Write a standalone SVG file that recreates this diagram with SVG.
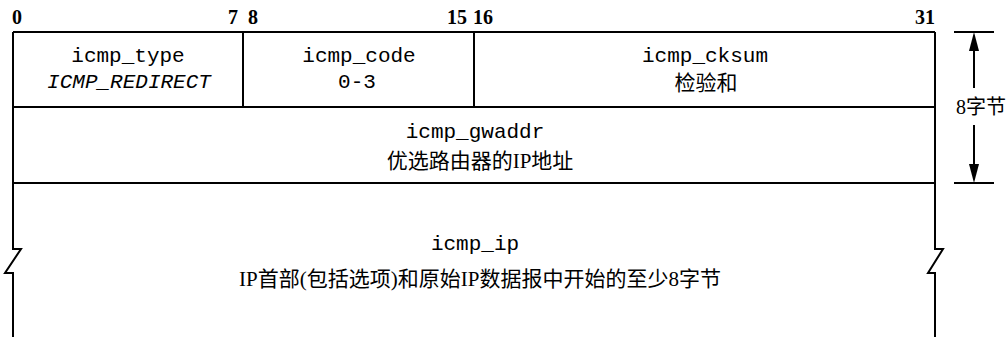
<svg xmlns="http://www.w3.org/2000/svg" width="1006" height="337" viewBox="0 0 1006 337">
<style>
.ln{stroke:#000;stroke-width:2;fill:none}
.bit{font-family:"Liberation Serif",serif;font-weight:bold;font-size:20px;fill:#000}
.mono{font-family:"Liberation Mono","Courier New",monospace;font-size:21px;fill:#000;text-anchor:middle}
.it{font-style:italic}
.cjk{font-family:"Liberation Serif","Noto Sans CJK SC",sans-serif;font-size:21px;fill:#000;text-anchor:middle}
</style>
<rect width="1006" height="337" fill="#fff"/>
<g id="bit-numbers">
<text class="bit" x="12" y="24">0</text>
<text class="bit" x="238" y="24" text-anchor="end">7</text>
<text class="bit" x="248" y="24">8</text>
<text class="bit" x="467" y="24" text-anchor="end">15</text>
<text class="bit" x="473" y="24">16</text>
<text class="bit" x="935" y="24" text-anchor="end">31</text>
</g>
<g id="frame">
<path class="ln" d="M13,32 H935"/>
<path class="ln" d="M13,32 V249 H21 L5,273 H13 V337"/>
<path class="ln" d="M935,32 V249 H943 L928,273 H935 V337"/>
<path class="ln" d="M13,107 H935 M13,183 H935"/>
</g>
<g id="icmp_type">
<path class="ln" d="M243,32 V107"/>
<text class="mono" x="128" y="62">icmp_type</text>
<text class="mono it" x="129" y="88">ICMP_REDIRECT</text>
</g>
<g id="icmp_code">
<path class="ln" d="M474,32 V107"/>
<text class="mono" x="359" y="62">icmp_code</text>
<text class="mono" x="357" y="88">0-3</text>
</g>
<g id="icmp_cksum">
<text class="mono" x="705" y="62">icmp_cksum</text>
<text class="cjk" x="706" y="90">检验和</text>
</g>
<g id="icmp_gwaddr">
<text class="mono" x="475" y="138">icmp_gwaddr</text>
<text class="cjk" x="480" y="168">优选路由器的IP地址</text>
</g>
<g id="icmp_ip">
<text class="mono" x="475" y="250">icmp_ip</text>
<text class="cjk" x="480" y="286">IP首部(包括选项)和原始IP数据报中开始的至少8字节</text>
</g>
<g id="size-8bytes">
<path class="ln" d="M954,32 H994 M954,183 H994 M974,50 V88 M974,125 V165"/>
<polygon points="974,32 969,51 979,51" fill="#000"/>
<polygon points="974,183 969,164 979,164" fill="#000"/>
<text class="cjk" x="981" y="114" style="font-size:20px">8字节</text>
</g>
</svg>
